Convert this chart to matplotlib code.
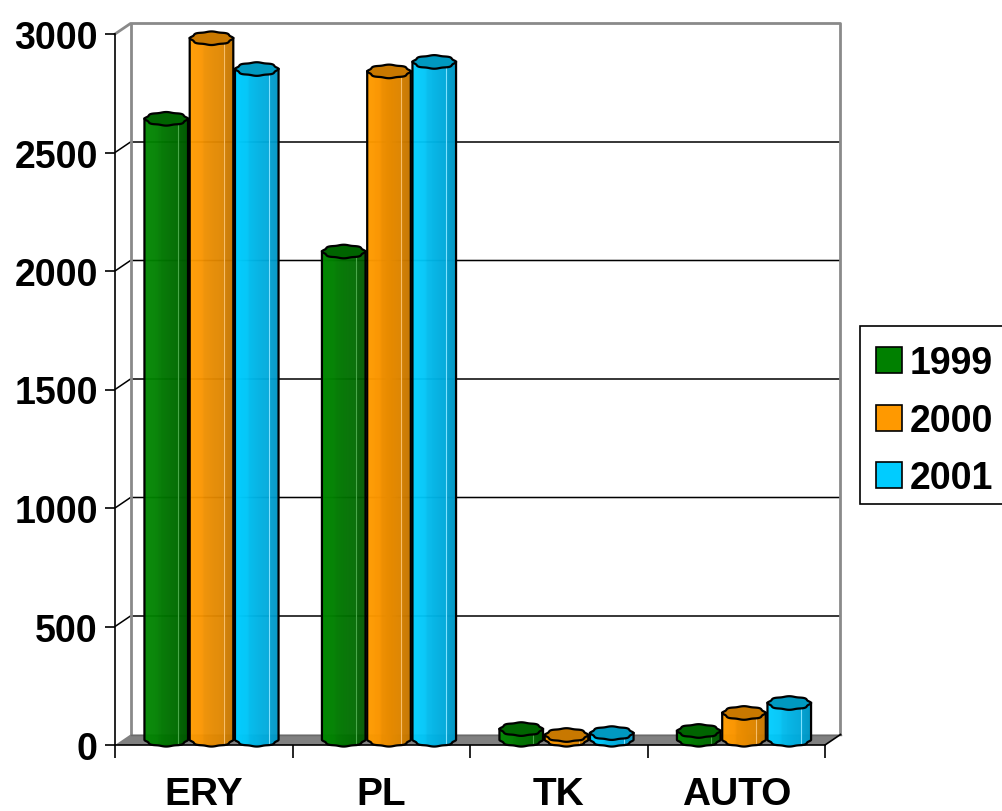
import numpy as np
import matplotlib
matplotlib.use("Agg")
import matplotlib.pyplot as plt
from matplotlib.patches import Polygon, Rectangle
from matplotlib.colors import to_rgb

categories = ["ERY", "PL", "TK", "AUTO"]
series_names = ["1999", "2000", "2001"]
values_1999 = [2620, 2060, 45, 37]
values_2000 = [2960, 2820, 20, 113]
values_2001 = [2830, 2860, 28, 155]
y_ticks = [0, 500, 1000, 1500, 2000, 2500, 3000]

series_values = [values_1999, values_2000, values_2001]

# body shading (left -> right facets), highlight streak and cap colour per series
body_stops = [
    [(0.0, "#008800"), (0.30, "#008000"), (0.34, "#007a00"), (0.55, "#007200"),
     (0.76, "#006c00"), (0.80, "#006200"), (1.0, "#005800")],
    [(0.0, "#ff9c00"), (0.30, "#fa9500"), (0.34, "#ef8f00"), (0.55, "#e68a00"),
     (0.76, "#df8600"), (0.80, "#d27e00"), (1.0, "#c47600")],
    [(0.0, "#00ceff"), (0.30, "#00c6f8"), (0.34, "#00bcee"), (0.55, "#00b2e4"),
     (0.76, "#00aadc"), (0.80, "#00a0d0"), (1.0, "#0096c4")],
]
highlight = ["#4aa84a", "#f6be6a", "#7fe2ff"]
cap_colors = ["#006400", "#c87800", "#0099c0"]
legend_colors = ["#008000", "#ff9900", "#00ccff"]

W, H = 1003, 812
plt.rcParams["font.family"] = ["Liberation Sans", "DejaVu Sans"]
fig = plt.figure(figsize=(W / 100, H / 100), dpi=100)
fig.patch.set_facecolor("white")

# front plane of the plot box in pixels
X0, X1, Y0, Y1 = 115, 825, 746, 35
ax = fig.add_axes([X0 / W, 1 - Y0 / H, (X1 - X0) / W, (Y0 - Y1) / H])
ax.set_xlim(0, 4)
ax.set_ylim(0, 3000)
ax.patch.set_visible(False)

ux = 4 / (X1 - X0)        # data units per pixel, horizontal
uy = 3000 / (Y0 - Y1)     # data units per pixel, vertical
DX = 15.5 * ux            # depth offset
DY = 10.5 * uy
NCAT = len(categories)

wall_grey = "#8a8a8a"

# back wall
ax.add_patch(Polygon([(DX, DY), (NCAT + DX, DY), (NCAT + DX, 3000 + DY), (DX, 3000 + DY)],
                     closed=True, facecolor="white", edgecolor="none", zorder=0, clip_on=False))
# gridlines on back wall plus their diagonals on the side wall
for v in y_ticks[1:-1]:
    ax.plot([0, DX, NCAT + DX], [v, v + DY, v + DY], color="black", lw=1.1,
            zorder=1, clip_on=False, solid_capstyle="butt")
# wall borders
ax.plot([0, DX, NCAT + DX, NCAT + DX], [3000, 3000 + DY, 3000 + DY, DY],
        color=wall_grey, lw=2.0, zorder=1, clip_on=False)
ax.plot([DX, DX], [DY, 3000 + DY], color=wall_grey, lw=2.0, zorder=1, clip_on=False)

# floor
ax.add_patch(Polygon([(0, 0), (NCAT, 0), (NCAT + DX, DY), (DX, DY)], closed=True,
                     facecolor="#808080", edgecolor="none", zorder=1.5, clip_on=False))
ax.plot([DX, NCAT + DX], [DY, DY], color="#6a6a6a", lw=1.0, zorder=1.6, clip_on=False)
ax.plot([NCAT, NCAT + DX], [0, DY], color="black", lw=1.2, zorder=1.6, clip_on=False)


def interp_color(stops, t):
    pos = [s[0] for s in stops]
    cols = np.array([to_rgb(s[1]) for s in stops])
    return tuple(np.interp(t, pos, cols[:, k]) for k in range(3))


# octagonal cross-section with softened corners
theta = np.linspace(0, 2 * np.pi, 241)
rad = 0.955 + 0.045 * np.cos(8 * theta)
HW = 21.8      # half width of a bar, px
EH = 6.8       # half height of the cap, px
shape_x = HW * rad * np.cos(theta)
shape_y = EH * rad * np.sin(theta)
front = (theta >= np.pi)
fx_arc = shape_x[front]
fy_arc = shape_y[front]
order = np.argsort(fx_arc)
fx_arc, fy_arc = fx_arc[order], fy_arc[order]

bar_step = 0.255
z = 3
for ci in range(NCAT):
    for si in range(len(series_names)):
        v = series_values[si][ci]
        xc = ci + 0.5 + DX / 2 + (si - 1) * bar_step
        yb = DY / 2           # base centre (mid depth)
        yt = v + DY / 2       # cap centre (mid depth)
        nstrip = 44
        edges = np.linspace(-HW, HW, nstrip + 1)
        for k in range(nstrip):
            xa, xb = edges[k], edges[k + 1]
            ba = np.interp(xa, fx_arc, fy_arc)
            bb = np.interp(xb, fx_arc, fy_arc)
            t = (k + 0.5) / nstrip
            col = interp_color(body_stops[si], t)
            poly = [(xc + xa * ux, yb + ba * uy), (xc + xb * ux, yb + bb * uy),
                    (xc + xb * ux, yt), (xc + xa * ux, yt)]
            ax.add_patch(Polygon(poly, closed=True, facecolor=col, edgecolor=col,
                                 lw=0.4, zorder=z, clip_on=False))
        # light streak on the right facet
        hx = 0.56 * HW
        hb = np.interp(hx, fx_arc, fy_arc)
        ax.plot([xc + hx * ux, xc + hx * ux], [yb + hb * uy, yt], color=highlight[si],
                lw=0.8, zorder=z + 0.01, clip_on=False)
        # body outline: sides and bottom arc
        ox = np.concatenate([[-HW], fx_arc, [HW]])
        oy = np.concatenate([[0.0], fy_arc, [0.0]])
        line_x = np.concatenate([[xc - HW * ux], xc + ox * ux, [xc + HW * ux]])
        line_y = np.concatenate([[yt], yb + oy * uy, [yt]])
        ax.plot(line_x, line_y, color="black", lw=1.6, zorder=z + 0.02, clip_on=False,
                solid_joinstyle="round")
        # cap
        cap = np.column_stack([xc + shape_x * ux, yt + shape_y * uy])
        ax.add_patch(Polygon(cap, closed=True, facecolor=cap_colors[si], edgecolor="black",
                             lw=1.6, zorder=z + 0.03, clip_on=False, joinstyle="round"))
        z += 0.1

# axes
for s in ["top", "right"]:
    ax.spines[s].set_visible(False)
for s in ["left", "bottom"]:
    ax.spines[s].set_color("black")
    ax.spines[s].set_linewidth(1.2)
    ax.spines[s].set_zorder(2)

ax.set_yticks(y_ticks)
ax.set_yticklabels([str(t) for t in y_ticks], fontsize=27, fontweight="bold")
ax.tick_params(axis="y", direction="out", length=7.5, width=1.2, pad=5)

ax.set_xticks(range(NCAT + 1))
ax.set_xticklabels([""] * (NCAT + 1))
ax.tick_params(axis="x", which="major", direction="out", length=9, width=1.2)
ax.set_xticks([i + 0.5 for i in range(NCAT)], minor=True)
ax.set_xticklabels(categories, minor=True, fontsize=28, fontweight="bold")
ax.tick_params(axis="x", which="minor", length=0, pad=22)


# legend
def fxp(px):
    return px / W


def fyp(py):
    return 1 - py / H


fig.add_artist(Rectangle((fxp(860), fyp(505)), (1012 - 860) / W, (505 - 327) / H,
                         transform=fig.transFigure, facecolor="white", edgecolor="black",
                         lw=1.2, clip_on=False))
row_centers = [361, 419, 476]
baselines = [374, 432, 489]
for i, name in enumerate(series_names):
    sq = 26
    fig.add_artist(Rectangle((fxp(876), fyp(row_centers[i] + sq / 2)), sq / W, sq / H,
                             transform=fig.transFigure, facecolor=legend_colors[i],
                             edgecolor="black", lw=1.2))
    fig.text(fxp(910), fyp(baselines[i]), name, fontsize=27, fontweight="bold",
             ha="left", va="baseline")

fig.savefig("out.png", dpi=100)
